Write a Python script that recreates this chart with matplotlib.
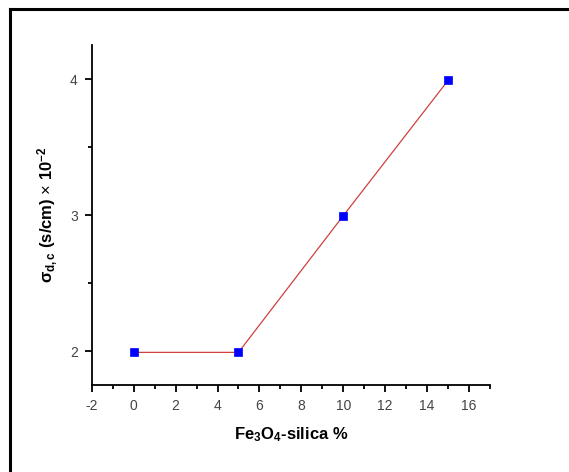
import matplotlib
matplotlib.use('Agg')
import matplotlib.pyplot as plt
from matplotlib.lines import Line2D
from matplotlib.ticker import MultipleLocator

plt.rcParams['font.family'] = ['Liberation Sans', 'DejaVu Sans']
plt.rcParams['mathtext.fontset'] = 'custom'
plt.rcParams['mathtext.rm'] = 'Liberation Sans'
plt.rcParams['mathtext.it'] = 'Liberation Sans:italic'
plt.rcParams['mathtext.bf'] = 'Liberation Sans:bold'
plt.rcParams['axes.unicode_minus'] = False

# data
fe3o4_pct = [0, 5, 10, 15]
sigma_dc = [1.99, 1.99, 2.995, 3.99]

x_ticks = [-2, 0, 2, 4, 6, 8, 10, 12, 14, 16]
y_ticks = [2, 3, 4]

fig = plt.figure(figsize=(5.69, 4.72), dpi=100)
ax = fig.add_axes([0.1612, 0.1843, 0.700, 0.7203])

ax.plot(fe3o4_pct, sigma_dc, color='#d04040', lw=0.9, zorder=2)
ax.plot(fe3o4_pct, sigma_dc, ls='none', marker='s', ms=5.5, mew=0.5,
        mfc='#0000ff', mec='#0000ff', zorder=3)

ax.set_xlim(-2, 17)
ax.set_ylim(1.75, 4.25)
ax.set_xticks(x_ticks)
ax.set_yticks(y_ticks)
ax.xaxis.set_minor_locator(MultipleLocator(1))
ax.yaxis.set_minor_locator(MultipleLocator(0.5))

for side in ['top', 'right']:
    ax.spines[side].set_visible(False)
for side in ['left', 'bottom']:
    ax.spines[side].set_linewidth(1.3)

ax.tick_params(which='major', direction='out', length=5, width=1.3,
               labelsize=10, labelcolor='#444444', pad=5)
ax.tick_params(which='minor', direction='out', length=3, width=1.3)

ax.set_xlabel(r'Fe$_\mathbf{3}$O$_\mathbf{4}$-silica %', fontsize=12,
              fontweight='bold', labelpad=9)
ax.set_ylabel(r'$\mathbf{\sigma_{d,c}}$ (s/cm) $\times$ 10$^{\mathbf{-2}}$',
              fontsize=12, fontweight='bold', labelpad=7)

# frame lines on the left and top of the picture
fig.add_artist(Line2D([0.0167, 0.0167], [0, 0.98], transform=fig.transFigure,
                      color='black', lw=2.2))
fig.add_artist(Line2D([0.0167, 1.0], [0.98, 0.98], transform=fig.transFigure,
                      color='black', lw=2.2))

fig.savefig('out.png', dpi=100)
